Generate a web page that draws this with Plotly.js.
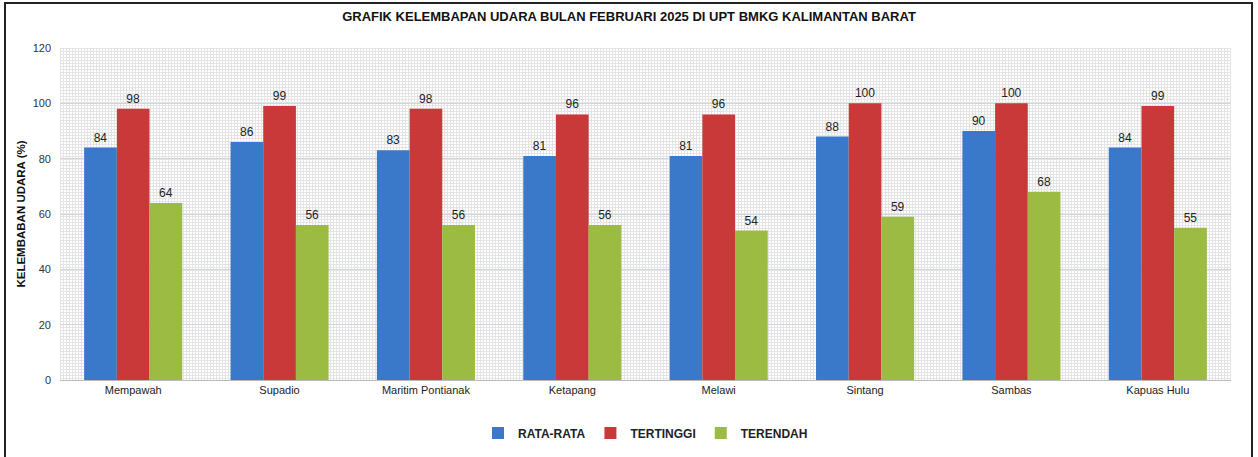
<!DOCTYPE html>
<html><head><meta charset="utf-8">
<script src="https://cdn.plot.ly/plotly-3.0.1.min.js"></script>
<style>
html,body{margin:0;padding:0;background:#fff;}
#chart{position:absolute;left:0;top:0;width:1258px;height:457px;}
#frame{position:absolute;left:4px;top:2px;width:1245px;height:470px;border:2px solid #222;pointer-events:none;}
</style></head>
<body>
<div id="chart"></div>
<div id="frame"></div>
<script>
const categories = ["Mempawah","Supadio","Maritim Pontianak","Ketapang","Melawi","Sintang","Sambas","Kapuas Hulu"];
const rataRata  = [84, 86, 83, 81, 81, 88, 90, 84];
const tertinggi = [98, 99, 98, 96, 96, 100, 100, 99];
const terendah  = [64, 56, 56, 56, 54, 59, 68, 55];
const seriesNames = ["RATA-RATA","TERTINGGI","TERENDAH"];
const yTicks = [0,20,40,60,80,100,120];

const colors = ["#3a78c9","#c9393a","#9bbb43"];
const font = "Liberation Sans, Arial, sans-serif";

const mk = (name, vals, c) => ({
  type:"bar", name:name, x:categories, y:vals,
  marker:{color:c, line:{width:0}},
  text: vals.map(String), textposition:"outside", cliponaxis:false,
  textfont:{family:font, size:12, color:"#222"}
});

const data = [mk(seriesNames[0], rataRata, colors[0]), mk(seriesNames[1], tertinggi, colors[1]), mk(seriesNames[2], terendah, colors[2])];

const svg = "<svg xmlns='http://www.w3.org/2000/svg' width='1171' height='332'><defs><pattern id='p' width='3' height='3' patternUnits='userSpaceOnUse'><rect width='3' height='3' fill='#ffffff'/><rect width='1' height='3' fill='#e4e4e4'/><rect width='3' height='1' fill='#e4e4e4'/></pattern></defs><rect width='1171' height='332' fill='url(#p)'/></svg>";

const layout = {
  width:1258, height:457,
  margin:{l:60, r:27, t:48, b:77, autoexpand:false},
  paper_bgcolor:"#fff", plot_bgcolor:"#fff",
  font:{family:font, size:11, color:"#333"},
  title:{text:"<b>GRAFIK KELEMBAPAN UDARA BULAN FEBRUARI 2025 DI UPT BMKG KALIMANTAN BARAT</b>",
         font:{family:font, size:13, color:"#111"}, x:0.5, xanchor:"center", y:0.965, yanchor:"middle"},
  barmode:"group", bargap:0.33, bargroupgap:0,
  xaxis:{showgrid:false, ticks:"", tickfont:{family:font, size:11, color:"#222"}, showline:true, linecolor:"#bbb", linewidth:1},
  yaxis:{range:[0,120], tickvals:yTicks, ticktext:yTicks.map(String), showgrid:true, gridcolor:"#cfd6e0", gridwidth:1,
         zeroline:false, showline:false, ticks:"", ticklabelstandoff:8,
         tickfont:{family:font, size:11, color:"#333"},
         title:{text:"<b>KELEMBABAN UDARA (%)</b>", font:{family:font, size:11.5, color:"#111"}, standoff:4}},
  legend:{orientation:"h", x:0.5, xanchor:"center", y:-0.16, yanchor:"middle",
          font:{family:font, size:12, color:"#222", weight:"bold"}, itemwidth:30, traceorder:"normal"},
  images:[{source:"data:image/svg+xml;charset=utf-8,"+encodeURIComponent(svg), xref:"paper", yref:"paper",
           x:0, y:1, sizex:1, sizey:1, sizing:"stretch", layer:"below", xanchor:"left", yanchor:"top"}],
  showlegend:true
};

Plotly.newPlot("chart", data, layout, {displayModeBar:false, staticPlot:true});
</script>
</body></html>
